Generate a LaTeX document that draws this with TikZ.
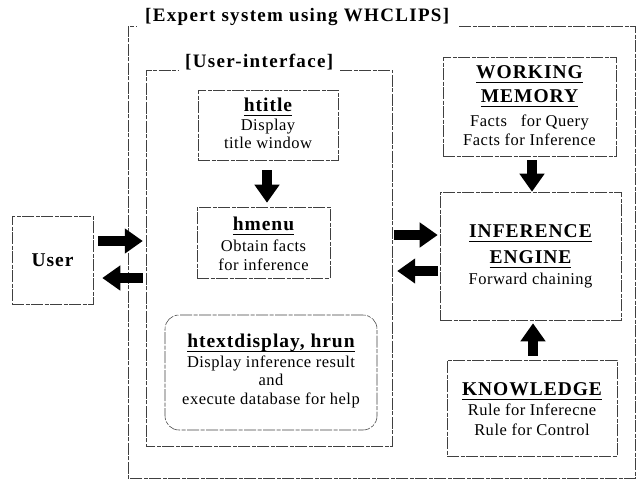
\documentclass[tikz,border=0pt]{standalone}
\usepackage{fontspec}
\setmainfont{Liberation Serif}
\newfontfamily\hdfam{Liberation Serif}[LetterSpace=5]
\newfontfamily\ttfam{Liberation Serif}[LetterSpace=7]
\newfontfamily\bdfam{Liberation Serif}[LetterSpace=3]
\usetikzlibrary{arrows.meta,calc}
\newcommand\uln[1]{\setbox0\hbox{#1}\rlap{\rule[-4.5pt]{\wd0}{0.8pt}}\box0}
\tikzset{
  frame/.style={draw=black!75, line width=0.55pt, dash pattern=on 12pt off 1.5pt on 4pt off 1.5pt},
  boxx/.style={frame, inner sep=0pt},
  hd/.style={font=\hdfam\bfseries\fontsize{19.5}{22}\selectfont, inner sep=0pt, anchor=base},
  bd/.style={font=\bdfam\fontsize{16.5}{19}\selectfont, inner sep=0pt, anchor=base},
  ttl/.style={font=\ttfam\bfseries\fontsize{19}{22}\selectfont, inner sep=0pt, anchor=base west},
  blk/.style={line width=10.5pt, -{Triangle[length=18pt,width=24pt]}, black},
}
\begin{document}
\begin{tikzpicture}[x=1pt,y=-1pt]
\useasboundingbox (0,0) rectangle (639,483);
% frames (invisible nodes giving the extents)
\node[minimum width=507pt, minimum height=452pt, inner sep=0pt] (outer) at (381.5,252) {};
\node[minimum width=246pt, minimum height=376pt, inner sep=0pt] (ui) at (269,258) {};
\node[ttl] (ttl) at (145,21) {[Expert system using WHCLIPS]};
\node[ttl] (uittl) at (185,67) {[User-interface]};
\draw[frame] ([xshift=10pt]ttl.east |- outer.north) -- (outer.north east) -- (outer.south east)
  -- (outer.south west) -- (outer.north west) -- ++(9,0);
\draw[frame] ([xshift=7pt]uittl.east |- ui.north) -- (ui.north east) -- (ui.south east)
  -- (ui.south west) -- (ui.north west) -- ([xshift=-7pt]uittl.west |- ui.north);
% boxes
\node[boxx, minimum width=81pt, minimum height=88pt, font=\hdfam\bfseries\fontsize{19.5}{22}\selectfont] (user) at (52.5,260) {User};
\node[boxx, minimum width=140pt, minimum height=70pt] (htitle) at (268,125) {};
\node[boxx, minimum width=133pt, minimum height=71pt] (hmenu) at (263.5,242.5) {};
\node[boxx, minimum width=212pt, minimum height=115pt, rounded corners=14pt] (htext) at (271,372.5) {};
\node[boxx, minimum width=173pt, minimum height=99pt] (wm) at (529.5,106.5) {};
\node[boxx, minimum width=181pt, minimum height=128pt] (ie) at (530.5,256) {};
\node[boxx, minimum width=170pt, minimum height=96pt] (kn) at (532,408) {};
% texts
\node[hd] (t1) at (268,111) {\uln{htitle}};
\node[bd] (t2) at (268,130) {Display};
\node[bd] (t3) at (268,148) {title window};
\node[hd] (m1) at (263.5,230) {\uln{hmenu}};
\node[bd] (m2) at (263.5,251) {Obtain facts};
\node[bd] (m3) at (263.5,270) {for inference};
\node[hd] (x1) at (271,347) {\uln{htextdisplay, hrun}};
\node[bd] (x2) at (271,367) {Display inference result};
\node[bd] (x3) at (271,385) {and};
\node[bd] (x4) at (271,404) {execute database for help};
\node[hd] (w1) at (529.5,78) {\uln{WORKING}};
\node[hd] (w2) at (529.5,102) {\uln{MEMORY}};
\node[bd] (w3) at (529.5,126) {Facts\ \ \ for Query};
\node[bd] (w4) at (529.5,145) {Facts for Inference};
\node[hd] (i1) at (530.5,237) {\uln{INFERENCE}};
\node[hd] (i2) at (530.5,263) {\uln{ENGINE}};
\node[bd] (i3) at (530.5,284) {Forward chaining};
\node[hd] (k1) at (532,395) {\uln{KNOWLEDGE}};
\node[bd] (k2) at (532,415) {Rule for Inferecne};
\node[bd] (k3) at (532,435) {Rule for Control};
% arrows
\draw[blk] ($(user.east)+(5,-19)$) -- ($(ui.west |- user.east)+(-3,-19)$);
\draw[blk] ($(ui.west |- user.east)+(-3,18)$) -- ($(user.east)+(9,18)$);
\draw[blk] ($(ui.east |- ie.west)+(2,-21)$) -- ($(ie.west)+(-2,-21)$);
\draw[blk] ($(ie.west)+(-2,15)$) -- ($(ui.east |- ie.west)+(5,15)$);
\draw[blk] ($(htitle.south)+(-1,10)$) -- ($(hmenu.north -| htitle.south)+(-1,-4)$);
\draw[blk] ($(wm.south)+(2.5,4)$) -- ($(ie.north -| wm.south)+(2.5,0)$);
\draw[blk] ($(kn.north)+(1,-4)$) -- ($(ie.south -| kn.north)+(1,3)$);
\end{tikzpicture}
\end{document}
